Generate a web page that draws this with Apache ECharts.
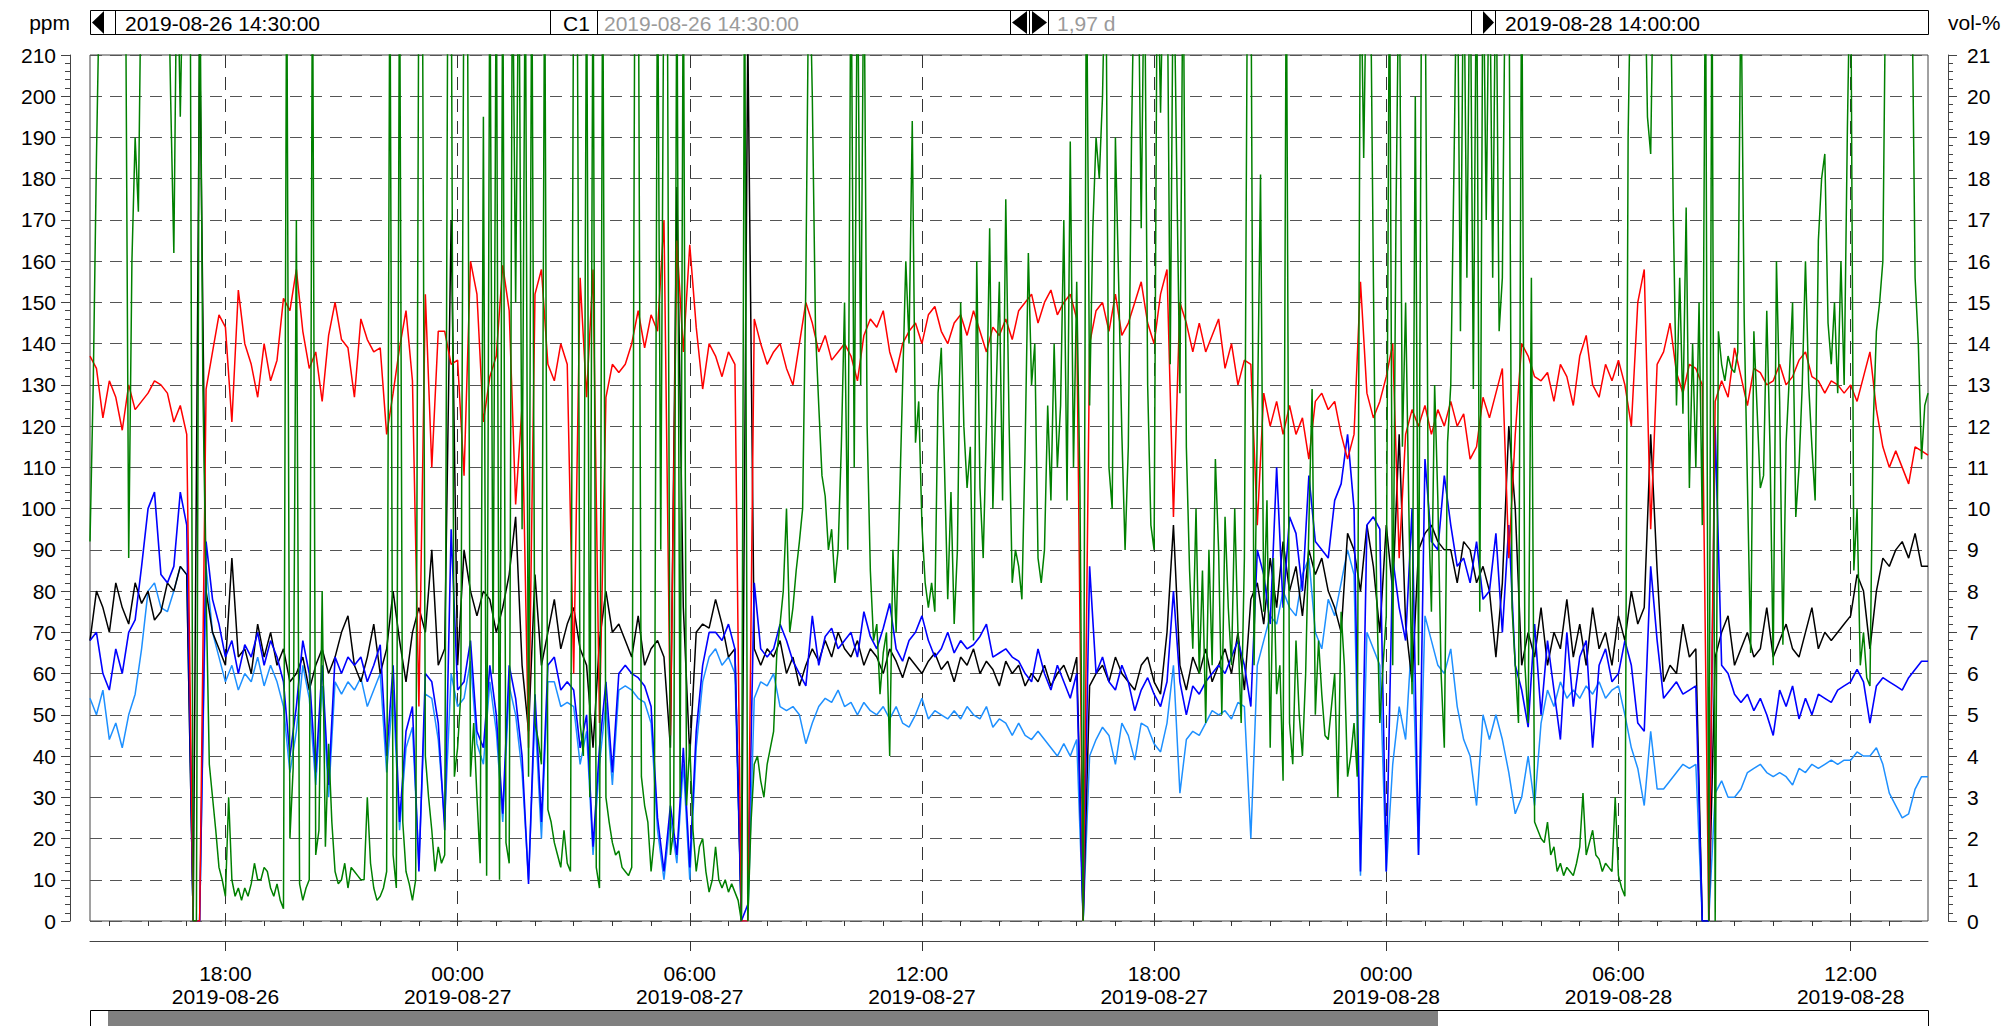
<!DOCTYPE html>
<html><head><meta charset="utf-8">
<script src="https://cdn.jsdelivr.net/npm/echarts@6/dist/echarts.min.js"></script>
<style>html,body{margin:0;padding:0;background:#fff}#chart{width:2004px;height:1026px}</style>
</head><body><div id="chart"></div>
<script>
// time in minutes since 2019-08-26 00:00
const startMinute = 870;   // 2019-08-26 14:30
const endMinute = 3720;    // 2019-08-28 14:00
const stepMain = 10;       // minutes between samples (red, black, blue, light blue)
const stepGreen = 5;       // minutes between samples (green)
const majorTicks = [1080, 1440, 1800, 2160, 2520, 2880, 3240, 3600];

const redPpm = [
137,134,122,131,127,119, 130,124,126,128,131,130, 128,121,125,118,0,0,
129,138,147,144,121,153, 140,135,127,140,131,136, 151,148,158,143,134,138,
126,142,150,141,139,127, 146,141,138,139,118,128, 139,148,131,52,152,110,
143,143,135,136,108,160, 152,121,132,137,159,148, 101,125,42,152,158,135,
131,140,135,60,156,127, 158,48,127,135,133,135, 140,148,139,147,143,170,
45,165,138,164,144,129, 140,137,132,138,135,0, 0,146,140,135,138,140,
134,130,140,150,145,138, 142,136,138,140,137,131, 142,146,144,148,138,133,
140,143,145,140,147,149, 143,140,145,147,142,148, 143,138,144,142,146,141,
148,150,152,145,150,153, 147,150,152,146,0,140, 148,150,143,152,142,145,
150,155,145,140,152,158, 98,150,145,138,145,138, 142,146,134,140,130,136,
135,96,128,120,126,118, 125,118,122,112,126,128, 124,126,118,112,118,155,
128,122,126,132,140,88, 118,124,120,125,118,124, 120,126,120,123,112,115,
127,122,128,134,88,118, 140,137,132,131,133,126, 135,132,125,137,142,130,
127,135,131,136,130,120, 150,158,95,135,138,145, 133,128,135,134,130,0,
126,131,127,139,132,125, 134,133,130,131,135,130, 132,136,138,132,131,128,
131,130,128,130,126,132, 138,124,115,110,114,110, 106,115,114,113
];

const blackPpm = [
68,80,76,70,82,76, 72,82,77,80,73,75, 82,80,86,84,0,215,
80,70,66,62,88,64, 66,60,72,64,70,62, 66,58,60,64,56,62,
66,60,64,70,74,62, 58,64,72,60,66,80, 68,58,70,76,70,90,
62,66,170,62,90,80, 74,80,78,70,76,84, 98,62,46,84,62,70,
78,66,72,76,66,62, 42,68,80,70,72,68, 64,74,62,66,68,64,
42,178,76,40,70,72, 71,78,72,64,66,0, 215,66,62,66,64,68,
60,64,57,62,66,63, 68,64,70,66,64,68, 62,66,64,60,66,63,
59,64,62,60,63,65, 61,63,58,64,62,66, 60,63,61,57,63,60,
62,57,60,58,62,57, 60,62,58,64,0,57, 60,62,58,64,60,58,
56,62,64,58,55,70, 96,62,56,64,60,66, 58,62,66,60,70,56,
78,82,72,88,76,92, 80,86,74,90,84,88, 80,76,70,94,90,80,
96,86,70,96,80,118, 72,58,90,94,96,92, 90,90,82,92,90,82,
86,80,64,82,120,100, 62,70,64,76,62,70, 66,78,64,72,62,76,
66,70,62,74,68,80, 72,76,118,85,58,62, 60,72,64,66,0,0,
64,70,74,62,66,70, 64,66,76,64,68,72, 66,64,70,76,66,70,
68,70,72,74,84,80, 66,80,88,86,90,92, 88,94,86,86
];

const bluePpm = [
68,70,60,56,66,60, 70,73,86,100,104,84, 82,86,104,96,0,0,
92,78,72,64,68,60, 67,64,70,62,68,64, 58,40,52,68,60,36,
62,33,64,60,64,62, 64,58,62,67,40,62, 24,46,52,12,60,58,
48,22,95,56,58,68, 46,42,62,50,26,62, 54,40,9,55,24,62,
64,56,58,56,42,50, 18,42,58,36,60,62, 60,59,57,52,25,12,
28,16,42,13,46,62, 70,70,68,72,66,0, 4,82,66,64,66,72,
68,63,60,57,74,62, 69,71,66,68,70,64, 75,69,66,71,77,66,
63,68,70,74,68,64, 66,70,65,68,66,67, 69,72,64,65,66,64,
63,60,58,66,60,56, 62,58,54,60,0,86, 60,64,58,56,62,58,
51,56,59,55,52,58, 80,58,50,57,55,58, 60,62,60,64,68,62,
52,90,84,72,110,76, 98,94,80,108,92,90, 88,102,106,118,100,12,
96,98,95,12,88,76, 68,100,16,112,92,90, 108,96,86,88,82,92,
78,80,94,70,96,62, 56,47,72,50,68,56, 44,70,52,64,68,42,
62,66,58,60,68,62, 48,46,86,68,54,56, 58,55,56,57,0,0,
120,62,60,55,53,55, 51,54,50,45,56,52, 57,49,54,50,55,54,
53,56,57,58,61,58, 48,57,59,58,57,56, 59,61,63,63
];

const lightBluePpm = [
54,50,56,44,48,42, 50,55,66,80,82,76, 75,80,86,84,0,0,
86,70,64,58,62,56, 60,58,64,57,62,58, 52,36,46,62,54,33,
57,30,58,55,58,56, 59,52,56,60,36,56, 22,42,47,14,55,54,
44,24,60,52,54,63, 43,38,58,46,24,57, 50,36,10,50,20,58,
58,52,53,52,38,46, 16,38,53,33,56,57, 56,54,53,48,22,10,
25,14,38,10,42,58, 64,66,62,64,60,0, 0,54,58,57,60,52,
51,52,50,43,48,52, 54,53,56,52,53,50, 53,51,50,52,49,52,
48,47,50,54,49,51, 50,49,51,49,52,50, 49,52,47,49,48,45,
48,45,44,46,44,42, 40,43,40,44,0,40, 44,47,45,38,48,45,
39,48,47,43,41,48, 62,31,44,46,45,48, 51,50,51,49,53,52,
20,62,68,74,72,80, 76,74,84,88,70,66, 78,74,82,90,84,11,
70,66,62,12,38,52, 44,70,16,74,68,62, 60,66,52,44,40,28,
50,44,50,44,36,26, 30,40,28,48,56,52, 58,54,56,54,57,55,
58,54,56,57,50,42, 37,28,46,32,32,34, 36,38,37,38,0,0,
31,34,30,30,32,36, 37,38,36,35,36,35, 33,37,36,38,37,38,
39,38,39,39,41,40, 40,42,38,31,28,25, 26,32,35,35
];

const greenPpm = [
92,130,185,230,245,260,240,250,255,240,
250,235,88,160,190,172,240,255,250,245,
260,250,240,255,245,200,162,240,195,240,
250,250,0,0,240,130,80,38,30,22,
13,10,6,30,10,6,8,5,8,6,
9,14,10,10,13,12,8,6,9,5,
3,240,20,37,170,9,5,8,10,240,
16,22,80,18,43,24,12,9,10,14,
8,13,12,11,10,10,30,14,8,5,
6,8,12,240,16,8,240,24,12,9,
5,10,240,250,40,30,22,12,18,14,
16,240,240,35,42,55,240,240,35,48,
30,14,195,11,240,60,240,10,240,19,
14,240,150,240,95,240,35,240,48,44,
38,240,27,24,19,16,13,22,14,12,
240,250,48,40,240,30,240,13,8,240,
30,24,19,16,17,13,12,11,13,240,
250,35,28,24,12,20,240,90,240,240,
16,22,240,30,240,28,43,22,12,18,
20,12,7,10,18,10,8,10,7,9,
7,5,0,240,0,24,38,40,34,30,
38,42,46,65,72,80,100,70,76,85,
92,100,155,240,200,143,125,108,103,90,
95,82,90,115,150,90,240,110,240,130,
240,120,85,68,72,55,65,70,40,90,
70,100,130,160,140,194,116,126,96,82,
76,82,75,128,139,110,78,104,72,90,
150,120,105,115,68,160,105,88,120,168,
100,128,155,102,175,122,82,90,86,78,
115,162,130,140,88,82,90,125,102,140,
110,125,170,102,189,110,155,105,0,240,
125,168,190,180,200,240,110,100,190,155,
118,90,115,190,240,240,168,240,130,96,
90,240,196,240,240,135,240,183,128,240,
115,85,66,100,60,85,48,90,62,112,
90,50,98,76,62,100,70,48,88,240,
240,62,120,181,75,102,42,88,55,62,
34,240,48,38,68,50,40,60,96,129,
50,68,55,45,44,52,60,30,75,62,
35,40,48,35,240,185,240,240,156,80,
48,62,74,240,62,170,240,115,150,100,
55,200,62,240,240,102,75,130,102,60,
42,116,130,183,240,143,240,156,240,129,
240,75,240,170,240,156,240,143,156,240,
240,76,62,48,240,62,48,156,24,22,
20,19,24,16,18,12,14,11,13,12,
11,14,18,31,16,19,22,16,15,12,
14,13,12,30,11,8,6,190,240,250,
240,250,240,195,186,240,250,240,240,250,
240,172,125,156,123,173,105,140,110,150,
96,240,0,240,0,143,135,131,137,134,
133,138,230,146,106,65,143,124,105,108,
148,115,62,160,126,67,116,132,150,98,
110,130,160,130,115,102,165,180,186,145,
135,150,128,160,130,192,240,85,100,62,
70,59,57,120,143,150,160,240,240,240,
250,240,250,240,240,230,156,140,112,125,
128
];

const hourTicks = [];
for (let m = 900; m < endMinute; m += 60) hourTicks.push(m);

function pad(n) { return (n < 10 ? '0' : '') + n; }
function timeLabel(m) {
  const day = 26 + Math.floor(m / 1440);
  const mod = m % 1440;
  return pad(Math.floor(mod / 60)) + ':' + pad(mod % 60) + '\n2019-08-' + pad(day);
}
function toPairs(arr, step) { return arr.map((v, i) => [startMinute + i * step, v]); }

const FONT = "'Liberation Sans', Arial, sans-serif";
const chart = echarts.init(document.getElementById('chart'), null, { renderer: 'svg', width: 2004, height: 1026 });

function lineSeries(name, data, color, width) {
  return {
    name: name, type: 'line', data: data, showSymbol: false, symbol: 'none',
    lineStyle: { color: color, width: width, join: 'bevel' }, itemStyle: { color: color },
    clip: true, silent: true, animation: false, xAxisIndex: 0, yAxisIndex: 0
  };
}

const topTexts = { font: '21px ' + FONT, verticalAlign: 'middle', align: 'left' };

chart.setOption({
  animation: false,
  backgroundColor: '#ffffff',
  textStyle: { fontFamily: FONT },
  grid: {
    left: 90, right: 76, top: 55, bottom: 105, show: true,
    borderColor: '#444', borderWidth: 1, backgroundColor: 'transparent',
    containLabel: false, outerBoundsMode: 'none'
  },
  xAxis: [{
    type: 'value', min: startMinute, max: endMinute, position: 'bottom', offset: 20,
    axisLine: { show: true, onZero: false, lineStyle: { color: '#444', width: 1 } },
    axisTick: { show: true, customValues: majorTicks, length: 10, lineStyle: { color: '#333', width: 1 } },
    axisLabel: { show: true, customValues: majorTicks, formatter: timeLabel, color: '#000',
      fontSize: 21, lineHeight: 23, margin: 21, fontFamily: FONT },
    splitLine: { show: true, lineStyle: { color: '#333', type: [13, 9], width: 1 } }
  }, {
    type: 'value', min: startMinute, max: endMinute, position: 'bottom', offset: 20,
    axisLine: { show: false },
    axisTick: { show: true, customValues: hourTicks, length: 5, lineStyle: { color: '#333', width: 1 } },
    axisLabel: { show: false }, splitLine: { show: false }
  }],
  yAxis: [{
    type: 'value', min: 0, max: 210, interval: 10, position: 'left', offset: 20,
    name: 'ppm', nameLocation: 'end', nameGap: 33,
    nameTextStyle: { align: 'right', verticalAlign: 'middle', fontSize: 21, color: '#000', fontFamily: FONT },
    axisLine: { show: true, lineStyle: { color: '#444', width: 1 } },
    axisTick: { show: true, length: 9, lineStyle: { color: '#444' } },
    minorTick: { show: true, splitNumber: 5, length: 5, lineStyle: { color: '#444' } },
    axisLabel: { fontSize: 21, color: '#000', margin: 14, fontFamily: FONT },
    splitLine: { show: true, lineStyle: { color: '#555', type: [12, 8], width: 1 } },
    minorSplitLine: { show: false }
  }, {
    type: 'value', min: 0, max: 21, interval: 1, position: 'right', offset: 20,
    name: 'vol-%', nameLocation: 'end', nameGap: 33,
    nameTextStyle: { align: 'left', verticalAlign: 'middle', fontSize: 21, color: '#000', fontFamily: FONT },
    axisLine: { show: true, lineStyle: { color: '#444', width: 1 } },
    axisTick: { show: true, length: 9, lineStyle: { color: '#444' } },
    minorTick: { show: true, splitNumber: 5, length: 5, lineStyle: { color: '#444' } },
    axisLabel: { fontSize: 21, color: '#000', margin: 19, fontFamily: FONT },
    splitLine: { show: false }
  }],
  series: [
    lineSeries('light blue', toPairs(lightBluePpm, stepMain), '#1E90FF', 1.5),
    lineSeries('black', toPairs(blackPpm, stepMain), '#000000', 1.5),
    lineSeries('blue', toPairs(bluePpm, stepMain), '#0000FF', 1.6),
    lineSeries('red', toPairs(redPpm, stepMain), '#FF0000', 1.5),
    lineSeries('green', toPairs(greenPpm, stepGreen), '#008000', 1.5)
  ],
  graphic: [
    { type: 'rect', shape: { x: 90.5, y: 10.5, width: 1838, height: 24 }, style: { fill: '#fff', stroke: '#000', lineWidth: 1 } },
    { type: 'line', shape: { x1: 115.5, y1: 10.5, x2: 115.5, y2: 34.5 }, style: { stroke: '#000', lineWidth: 1 } },
    { type: 'line', shape: { x1: 550.5, y1: 10.5, x2: 550.5, y2: 34.5 }, style: { stroke: '#000', lineWidth: 1 } },
    { type: 'line', shape: { x1: 597.5, y1: 10.5, x2: 597.5, y2: 34.5 }, style: { stroke: '#000', lineWidth: 1 } },
    { type: 'line', shape: { x1: 1010.5, y1: 10.5, x2: 1010.5, y2: 34.5 }, style: { stroke: '#000', lineWidth: 1 } },
    { type: 'line', shape: { x1: 1029.5, y1: 10.5, x2: 1029.5, y2: 34.5 }, style: { stroke: '#000', lineWidth: 1 } },
    { type: 'line', shape: { x1: 1048.5, y1: 10.5, x2: 1048.5, y2: 34.5 }, style: { stroke: '#000', lineWidth: 1 } },
    { type: 'line', shape: { x1: 1471.5, y1: 10.5, x2: 1471.5, y2: 34.5 }, style: { stroke: '#000', lineWidth: 1 } },
    { type: 'line', shape: { x1: 1495.5, y1: 10.5, x2: 1495.5, y2: 34.5 }, style: { stroke: '#000', lineWidth: 1 } },
    { type: 'polygon', shape: { points: [[92, 22.5], [104, 11], [104, 34]] }, style: { fill: '#000' } },
    { type: 'polygon', shape: { points: [[1012, 22.5], [1027, 11], [1027, 34]] }, style: { fill: '#000' } },
    { type: 'polygon', shape: { points: [[1047, 22.5], [1032, 11], [1032, 34]] }, style: { fill: '#000' } },
    { type: 'polygon', shape: { points: [[1494, 22.5], [1483, 11], [1483, 34]] }, style: { fill: '#000' } },
    { type: 'text', x: 125, y: 23, style: Object.assign({ text: '2019-08-26 14:30:00', fill: '#000' }, topTexts) },
    { type: 'text', x: 563, y: 23, style: Object.assign({ text: 'C1', fill: '#000' }, topTexts) },
    { type: 'text', x: 604, y: 23, style: Object.assign({ text: '2019-08-26 14:30:00', fill: '#9a9a9a' }, topTexts) },
    { type: 'text', x: 1057, y: 23, style: Object.assign({ text: '1,97 d', fill: '#9a9a9a' }, topTexts) },
    { type: 'text', x: 1505, y: 23, style: Object.assign({ text: '2019-08-28 14:00:00', fill: '#000' }, topTexts) },
    { type: 'rect', shape: { x: 90.5, y: 1010.5, width: 1838, height: 30 }, style: { fill: '#fff', stroke: '#000', lineWidth: 1 } },
    { type: 'rect', shape: { x: 108, y: 1011, width: 1330, height: 30 }, style: { fill: '#808080' } }
  ]
});
</script>
</body></html>
